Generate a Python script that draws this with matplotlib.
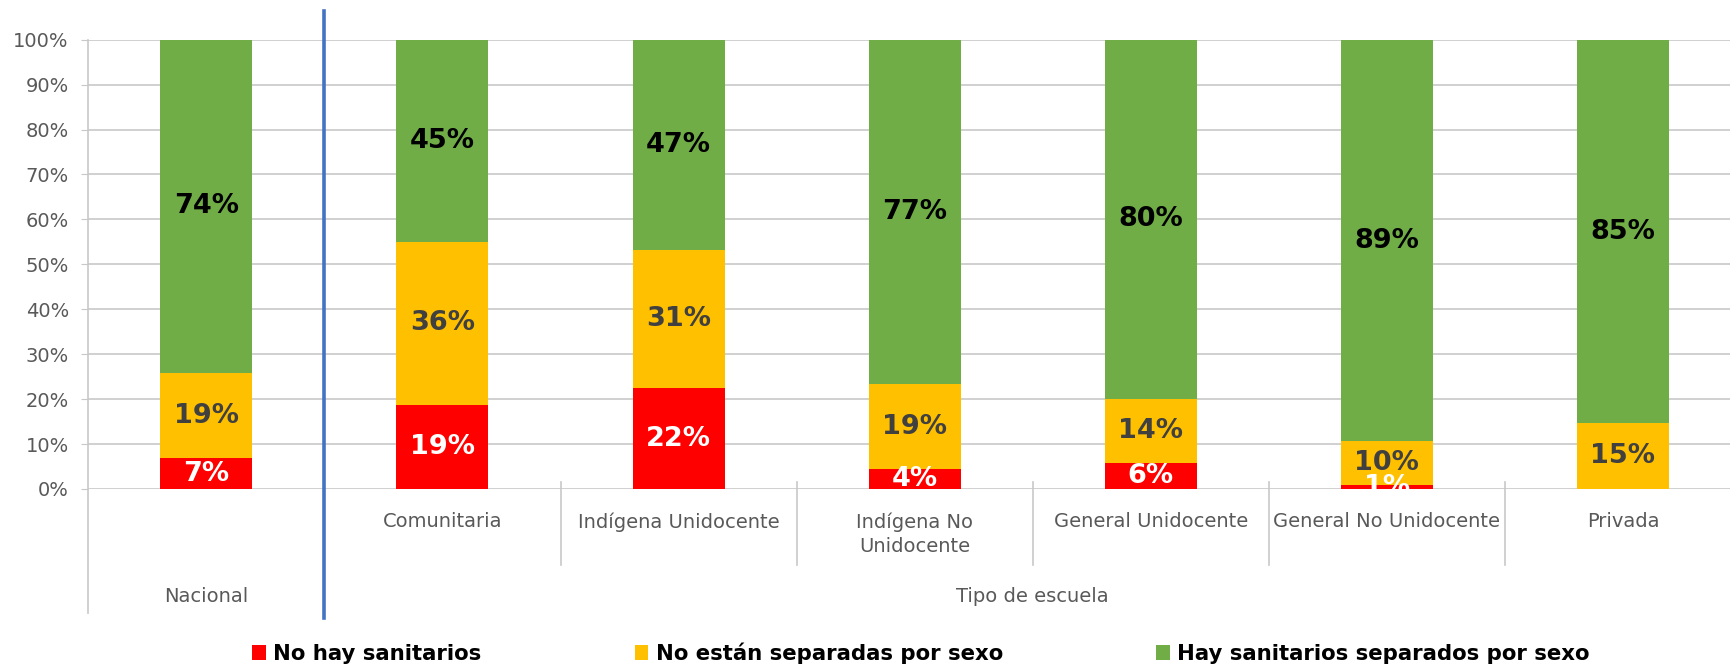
import matplotlib
matplotlib.use("Agg")
import matplotlib.pyplot as plt
from matplotlib.patches import Patch
import numpy as np

# ---------------- data ----------------
categories = ["Nacional", "Comunitaria", "Indígena Unidocente", "Indígena No\nUnidocente",
              "General Unidocente", "General No Unidocente", "Privada"]
no_hay_sanitarios = [6.8, 18.7, 22.4, 4.4, 5.7, 0.9, 0.0]
no_separadas = [19.1, 36.3, 30.7, 19.0, 14.4, 9.7, 14.6]
separados = [74.1, 45.0, 46.9, 76.6, 79.9, 89.4, 85.4]
series_names = ["No hay sanitarios", "No están separadas por sexo", "Hay sanitarios separados por sexo"]
group_labels = ["Nacional", "Tipo de escuela"]
yticks = list(range(0, 101, 10))

# ---------------- style ----------------
colors = ["#FF0000", "#FFC000", "#70AD47"]
label_colors = ["white", "#404040", "black"]
grid_c = "#C8C8C8"
text_c = "#595959"

W, H = 1731, 668
fig = plt.figure(figsize=(W / 100, H / 100), dpi=100)
left_px, right_px, top_px, bottom_px = 88.3, 1741, 39.7, 489
ax = fig.add_axes([left_px / W, 1 - bottom_px / H, (right_px - left_px) / W, (bottom_px - top_px) / H])

x = np.arange(len(categories))
series = [no_hay_sanitarios, no_separadas, separados]
bottom = np.zeros(len(categories))
bw = 0.39
for vals, col, lc in zip(series, colors, label_colors):
    vals = np.array(vals)
    ax.bar(x, vals, bw, bottom=bottom, color=col, edgecolor="none", zorder=2)
    for xi, v, b in zip(x, vals, bottom):
        if v > 0:
            ax.text(xi, b + v / 2, f"{round(v)}%", ha="center", va="center",
                    fontsize=19.5, fontweight="bold", color=lc, clip_on=True, zorder=3)
    bottom += vals

ax.set_xlim(-0.5, len(categories) - 0.5)
ax.set_ylim(0, 100)
ax.set_yticks(yticks)
ax.set_yticklabels([f"{t}%" for t in yticks])
ax.tick_params(axis="y", length=5, color=grid_c, pad=9, labelsize=14, labelcolor=text_c)
ax.set_xticks([])
for s in ax.spines.values():
    s.set_visible(False)
ax.yaxis.grid(True, color=grid_c, linewidth=1.2, zorder=0)
ax.set_axisbelow(True)

# axis decorations (hierarchical category axis)
ax.plot([-0.5, -0.5], [100, -27.6], color=grid_c, lw=1.2, clip_on=False, zorder=1)
ax.plot([0.5, 0.5], [106.4, -28.7], color="#4472C4", lw=2.6, clip_on=False, zorder=4)
for b in np.arange(1.5, len(categories) - 0.4, 1.0):
    ax.plot([b, b], [1.6, -16.9], color=grid_c, lw=1.2, clip_on=False, zorder=1)

for i in range(1, len(categories)):
    ax.text(x[i], -5.2, categories[i], ha="center", va="top", fontsize=14,
            color=text_c, linespacing=1.35, clip_on=False)
ax.text(x[0], -24, group_labels[0], ha="center", va="center", fontsize=14, color=text_c, clip_on=False)
ax.text((x[1] + x[-1]) / 2, -24, group_labels[1], ha="center", va="center", fontsize=14,
        color=text_c, clip_on=False)

handles = [Patch(facecolor=c, edgecolor="none") for c in colors]
leg = fig.legend(handles, series_names, loc="center", bbox_to_anchor=(921 / W, 1 - 653 / H),
                 ncol=3, frameon=False, handlelength=0.65, handleheight=0.7,
                 handletextpad=0.35, columnspacing=7.2,
                 prop={"weight": "bold", "size": 15.3})

fig.savefig("out.png", dpi=100)
